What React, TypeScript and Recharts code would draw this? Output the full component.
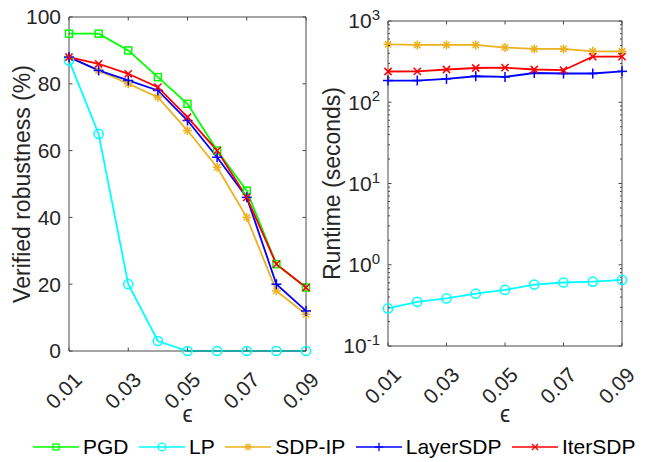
import React from 'react';
import { LineChart, Line, XAxis, YAxis } from 'recharts';

// ---------- data ----------
const EPS = [0.01, 0.02, 0.03, 0.04, 0.05, 0.06, 0.07, 0.08, 0.09];
const X_TICKS = [0.01, 0.03, 0.05, 0.07, 0.09];
const ROB_TICKS = [0, 20, 40, 60, 80, 100];

const PGD_ROB = [95, 95, 90, 82, 74, 60, 48, 26, 19];
const LP_ROB = [87, 65, 20, 3, 0, 0, 0, 0, 0];
const SDPIP_ROB = [88, 84, 80, 76, 66, 55, 40, 18, 11];
const LAYER_ROB = [88, 84, 81, 78, 69, 58, 46, 20, 12];
const ITER_ROB = [88, 86, 83, 79, 70, 60, 46, 26, 19];

const LP_TIME = [0.29, 0.35, 0.385, 0.44, 0.49, 0.57, 0.605, 0.62, 0.65];
const SDPIP_TIME = [516, 507, 507, 507, 471, 453, 453, 424, 424];
const LAYER_TIME = [185, 185, 194, 209, 205, 229, 226, 226, 240];
const ITER_TIME = [239, 240, 253, 264, 267, 253, 248, 365, 365];

const TIME_MAJOR = [0.1, 1, 10, 100, 1000];
const TIME_EXP = ['-1', '0', '1', '2', '3'];
const MANTISSAS = [2, 3, 4, 5, 6, 7, 8, 9];

const SERIES = [
  { key: 'PGD', name: 'PGD', color: '#00ff00', marker: 'square' },
  { key: 'LP', name: 'LP', color: '#00ffff', marker: 'circle' },
  { key: 'SDPIP', name: 'SDP-IP', color: '#EDB120', marker: 'asterisk' },
  { key: 'LAYER', name: 'LayerSDP', color: '#0000ff', marker: 'plus' },
  { key: 'ITER', name: 'IterSDP', color: '#ff0000', marker: 'x' },
];

const robData = EPS.map((e, i) => ({
  eps: e,
  PGD: PGD_ROB[i],
  LP: LP_ROB[i],
  SDPIP: SDPIP_ROB[i],
  LAYER: LAYER_ROB[i],
  ITER: ITER_ROB[i],
}));

const timeData = EPS.map((e, i) => ({
  eps: e,
  LP: LP_TIME[i],
  SDPIP: SDPIP_TIME[i],
  LAYER: LAYER_TIME[i],
  ITER: ITER_TIME[i],
}));

const TIME_MINOR = TIME_MAJOR.slice(0, -1).flatMap((d) =>
  MANTISSAS.map((m) => parseFloat((m * d).toPrecision(3)))
);
const TIME_TICKS = [...TIME_MAJOR, ...TIME_MINOR].sort((a, b) => a - b);

// ---------- style ----------
const FONT = "'Liberation Sans', Arial, Helvetica, sans-serif";
const TXT = '#262626';
const AX = '#4a4a4a';
const TL = 3.5;
const TL_MINOR = 2;
const TICK_FS = 21;
const LABEL_FS = 23;
const LW = 1.8;

function Marker({ type, cx, cy, color }: any) {
  const sw = 1.5;
  if (type === 'square') {
    return <rect x={cx - 3.5} y={cy - 3.5} width={7} height={7} fill="none" stroke={color} strokeWidth={sw} />;
  }
  if (type === 'circle') {
    return <circle cx={cx} cy={cy} r={4.6} fill="none" stroke={color} strokeWidth={sw} />;
  }
  if (type === 'asterisk') {
    const h = 4.5;
    const d = h * 0.707;
    return (
      <g stroke={color} strokeWidth={sw}>
        <line x1={cx - h} y1={cy} x2={cx + h} y2={cy} />
        <line x1={cx} y1={cy - h} x2={cx} y2={cy + h} />
        <line x1={cx - d} y1={cy - d} x2={cx + d} y2={cy + d} />
        <line x1={cx - d} y1={cy + d} x2={cx + d} y2={cy - d} />
      </g>
    );
  }
  if (type === 'plus') {
    const h = 5;
    return (
      <g stroke={color} strokeWidth={sw}>
        <line x1={cx - h} y1={cy} x2={cx + h} y2={cy} />
        <line x1={cx} y1={cy - h} x2={cx} y2={cy + h} />
      </g>
    );
  }
  const h = 3.6;
  return (
    <g stroke={color} strokeWidth={sw}>
      <line x1={cx - h} y1={cy - h} x2={cx + h} y2={cy + h} />
      <line x1={cx - h} y1={cy + h} x2={cx + h} y2={cy - h} />
    </g>
  );
}

const isMajor = (v: number) => TIME_MAJOR.some((m) => Math.abs(v - m) / m < 1e-6);

// bottom x ticks with rotated labels
const XTickBottom = (props: any) => {
  const { x, y, payload } = props;
  return (
    <g>
      <line x1={x} x2={x} y1={y} y2={y - TL} stroke={AX} />
      <text
        transform={`translate(${x + 9},${y + 25}) rotate(-45)`}
        textAnchor="end"
        dominantBaseline="central"
        fontSize={TICK_FS}
        fontFamily={FONT}
        fill={TXT}
      >
        {Number(payload.value).toFixed(2)}
      </text>
    </g>
  );
};
const XTickTop = (props: any) => {
  const { x, y } = props;
  return <line x1={x} x2={x} y1={y} y2={y + TL} stroke={AX} />;
};

const YTickLeftLinear = (props: any) => {
  const { x, y, payload } = props;
  return (
    <g>
      <line x1={x} x2={x + TL} y1={y} y2={y} stroke={AX} />
      <text x={x - 8} y={y} dy="0.35em" textAnchor="end" fontSize={TICK_FS} fontFamily={FONT} fill={TXT}>
        {payload.value}
      </text>
    </g>
  );
};
const YTickRightLinear = (props: any) => {
  const { x, y } = props;
  return <line x1={x} x2={x - TL} y1={y} y2={y} stroke={AX} />;
};

const YTickLeftLog = (props: any) => {
  const { x, y, payload } = props;
  const v = payload.value;
  if (!isMajor(v)) {
    return <line x1={x} x2={x + TL_MINOR} y1={y} y2={y} stroke={AX} />;
  }
  const idx = TIME_MAJOR.findIndex((m) => Math.abs(v - m) / m < 1e-6);
  return (
    <g>
      <line x1={x} x2={x + TL} y1={y} y2={y} stroke={AX} />
      <text x={x - 8} y={y} dy="0.35em" textAnchor="end" fontSize={TICK_FS} fontFamily={FONT} fill={TXT}>
        <tspan>10</tspan>
        <tspan dy="-0.55em" fontSize={15}>{TIME_EXP[idx]}</tspan>
      </text>
    </g>
  );
};
const YTickRightLog = (props: any) => {
  const { x, y, payload } = props;
  const len = isMajor(payload.value) ? TL : TL_MINOR;
  return <line x1={x} x2={x - len} y1={y} y2={y} stroke={AX} />;
};

const yLabel = (text: string, dx: number) => (props: any) => {
  const vb = props.viewBox || {};
  const cx = vb.x + dx;
  const cy = vb.y + vb.height / 2;
  return (
    <text
      transform={`translate(${cx},${cy}) rotate(-90)`}
      textAnchor="middle"
      fontSize={LABEL_FS}
      fontFamily={FONT}
      fill={TXT}
    >
      {text}
    </text>
  );
};
const xLabel = (props: any) => {
  const vb = props.viewBox || {};
  return (
    <text x={vb.x + vb.width / 2} y={422} textAnchor="middle" fontSize={LABEL_FS} fontFamily={FONT} fill={TXT}>
      ϵ
    </text>
  );
};

const renderLines = (keys: string[]) =>
  SERIES.filter((s) => keys.includes(s.key)).map((s) => (
    <Line
      key={s.key}
      dataKey={s.key}
      name={s.name}
      stroke={s.color}
      strokeWidth={LW}
      isAnimationActive={false}
      dot={(p: any) => <Marker key={`${s.key}-${p.index}`} type={s.marker} cx={p.cx} cy={p.cy} color={s.color} />}
      activeDot={false}
      type="linear"
    />
  ));

const axisLine = { stroke: AX, strokeWidth: 1 };

export default function App() {
  return (
    <div style={{ position: 'absolute', left: 0, top: 0, width: 650, height: 462, background: '#fff', fontFamily: FONT }}>
      {/* left: verified robustness */}
      <div style={{ position: 'absolute', left: 0, top: 0 }}>
        <LineChart width={650} height={462} data={robData} margin={{ top: 16, right: 343, bottom: 51, left: 0 }}>
          <XAxis
            dataKey="eps"
            type="number"
            domain={[0.01, 0.09]}
            ticks={X_TICKS}
            interval={0}
            height={60}
            tickSize={0}
            tickMargin={0}
            tickLine={false}
            axisLine={axisLine}
            tick={XTickBottom}
            label={xLabel}
          />
          <XAxis
            xAxisId="top"
            orientation="top"
            dataKey="eps"
            type="number"
            domain={[0.01, 0.09]}
            allowDataOverflow
            ticks={X_TICKS}
            interval={0}
            height={1}
            tickSize={0}
            tickMargin={0}
            tickLine={false}
            axisLine={axisLine}
            tick={XTickTop}
          />
          <YAxis
            type="number"
            domain={[0, 100]}
            ticks={ROB_TICKS}
            interval={0}
            width={69}
            tickSize={0}
            tickMargin={0}
            tickLine={false}
            axisLine={axisLine}
            tick={YTickLeftLinear}
            label={yLabel('Verified robustness (%)', 30)}
          />
          <YAxis
            yAxisId="right"
            orientation="right"
            type="number"
            domain={[0, 100]}
            allowDataOverflow
            ticks={ROB_TICKS}
            interval={0}
            width={1}
            tickSize={0}
            tickMargin={0}
            tickLine={false}
            axisLine={axisLine}
            tick={YTickRightLinear}
          />
          {renderLines(['PGD', 'LP', 'SDPIP', 'LAYER', 'ITER'])}
        </LineChart>
      </div>

      {/* right: runtime */}
      <div style={{ position: 'absolute', left: 0, top: 0 }}>
        <LineChart width={650} height={462} data={timeData} margin={{ top: 20, right: 27, bottom: 56, left: 328 }}>
          <XAxis
            dataKey="eps"
            type="number"
            domain={[0.01, 0.09]}
            ticks={X_TICKS}
            interval={0}
            height={60}
            tickSize={0}
            tickMargin={0}
            tickLine={false}
            axisLine={axisLine}
            tick={XTickBottom}
            label={xLabel}
          />
          <XAxis
            xAxisId="top"
            orientation="top"
            dataKey="eps"
            type="number"
            domain={[0.01, 0.09]}
            allowDataOverflow
            ticks={X_TICKS}
            interval={0}
            height={1}
            tickSize={0}
            tickMargin={0}
            tickLine={false}
            axisLine={axisLine}
            tick={XTickTop}
          />
          <YAxis
            type="number"
            scale="log"
            domain={[0.1, 1000]}
            ticks={TIME_TICKS}
            interval={0}
            width={60}
            tickSize={0}
            tickMargin={0}
            tickLine={false}
            axisLine={axisLine}
            tick={YTickLeftLog}
            label={yLabel('Runtime (seconds)', 12)}
          />
          <YAxis
            yAxisId="right"
            orientation="right"
            type="number"
            scale="log"
            domain={[0.1, 1000]}
            allowDataOverflow
            ticks={TIME_TICKS}
            interval={0}
            width={1}
            tickSize={0}
            tickMargin={0}
            tickLine={false}
            axisLine={axisLine}
            tick={YTickRightLog}
          />
          {renderLines(['LP', 'SDPIP', 'LAYER', 'ITER'])}
        </LineChart>
      </div>

      {/* legend */}
      <div style={{ position: 'absolute', left: 33, top: 436, display: 'flex', alignItems: 'center', height: 22 }}>
        {SERIES.map((s) => (
          <div key={s.key} style={{ display: 'flex', alignItems: 'center', marginRight: 10.5 }}>
            <svg width={46} height={22} style={{ display: 'block' }}>
              <line x1={0} x2={46} y1={11} y2={11} stroke={s.color} strokeWidth={1.5} />
              <g transform="translate(23,11) scale(0.85) translate(-23,-11)">
                <Marker type={s.marker} cx={23} cy={11} color={s.color} />
              </g>
            </svg>
            <span style={{ marginLeft: 4, fontSize: 21, lineHeight: '22px', color: '#000', whiteSpace: 'nowrap' }}>{s.name}</span>
          </div>
        ))}
      </div>
    </div>
  );
}
